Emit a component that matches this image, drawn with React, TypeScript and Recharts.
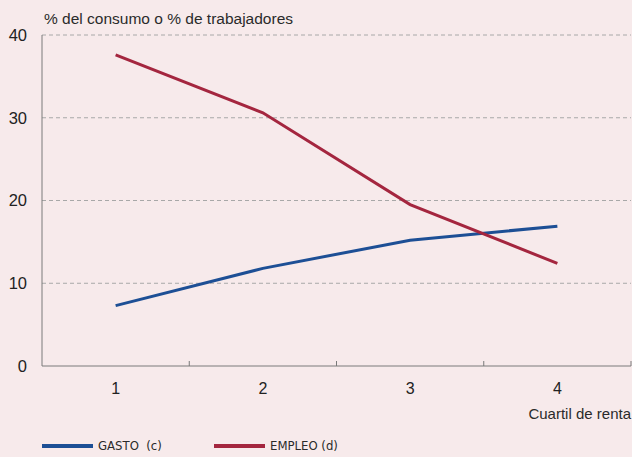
import { CartesianGrid, Line, LineChart, XAxis, YAxis } from 'recharts';

const quartiles = [1, 2, 3, 4];
const gasto = [7.3, 11.8, 15.2, 16.9];
const empleo = [37.6, 30.6, 19.5, 12.4];
const yTicks = [0, 10, 20, 30, 40];
const bandEdges = [1.5, 2.5, 3.5, 4.5];

const data = quartiles.map((q, i) => ({ q, gasto: gasto[i], empleo: empleo[i] }));

const BG = '#f7eaeb';
const BLUE = '#1d4f95';
const RED = '#a4263f';
const AXIS = '#7a7a7a';
const FONT = '"Liberation Sans", Arial, sans-serif';

const series = [
  { key: 'gasto', name: 'GASTO  (c)', color: BLUE },
  { key: 'empleo', name: 'EMPLEO (d)', color: RED },
];

const xTicks = [...quartiles, ...bandEdges].sort((a, b) => a - b);

// integer ticks get a label, half ticks a small mark pointing up into the plot
function QuartileTick(props: any) {
  const { x, y, payload } = props;
  const v = payload.value as number;
  if (bandEdges.includes(v)) {
    return <line x1={x} x2={x} y1={y} y2={y - 5} stroke={AXIS} strokeWidth={1} />;
  }
  return (
    <text x={x} y={y + 17} dy="0.71em" textAnchor="middle" fill="#222" fontSize={16} fontFamily={FONT}>
      {v}
    </text>
  );
}

export default function App() {
  return (
    <div
      style={{
        position: 'absolute',
        left: 0,
        top: 0,
        width: 632,
        height: 457,
        background: BG,
        fontFamily: FONT,
        overflow: 'hidden',
      }}
    >
      <div style={{ position: 'absolute', left: 44, top: 10, fontSize: 15.5, color: '#2a2a2a' }}>
        % del consumo o % de trabajadores
      </div>
      <LineChart
        width={632}
        height={457}
        data={data}
        margin={{ top: 35, right: 1, left: 0, bottom: 61 }}
      >
        <CartesianGrid
          horizontal
          vertical={false}
          stroke="#a8a8a8"
          strokeDasharray="4 3"
          horizontalValues={[10, 20, 30, 40]}
        />
        <XAxis
          dataKey="q"
          type="number"
          domain={[0.5, 4.5]}
          ticks={xTicks}
          height={30}
          tickSize={0}
          tickMargin={0}
          tickLine={false}
          axisLine={{ stroke: AXIS }}
          interval={0}
          tick={(p: any) => <QuartileTick {...p} />}
        />
        <YAxis
          domain={[0, 40]}
          ticks={yTicks}
          width={42}
          tickSize={0}
          tickMargin={15}
          tickLine={false}
          axisLine={{ stroke: AXIS }}
          interval={0}
          tick={{ fill: '#222', fontSize: 16.5, fontFamily: FONT }}
        />
        {series.map((s) => (
          <Line
            key={s.key}
            dataKey={s.key}
            name={s.name}
            stroke={s.color}
            strokeWidth={3}
            dot={false}
            type="linear"
            isAnimationActive={false}
          />
        ))}
      </LineChart>
      <div
        style={{ position: 'absolute', right: 1, top: 405, fontSize: 15, color: '#2a2a2a' }}
      >
        Cuartil de renta
      </div>
      <div style={{ position: 'absolute', left: 42, top: 438, display: 'flex' }}>
        {series.map((s) => (
          <div key={s.key} style={{ display: 'flex', alignItems: 'center', width: 172 }}>
            <span
              style={{ display: 'inline-block', width: 51, height: 4, background: s.color }}
            />
            <span
              style={{
                marginLeft: 5,
                fontSize: 13,
                color: '#2a2a2a',
                fontFamily: '"Liberation Sans Narrow", "DejaVu Sans Condensed", sans-serif',
                whiteSpace: 'pre',
              }}
            >
              {s.name}
            </span>
          </div>
        ))}
      </div>
    </div>
  );
}
